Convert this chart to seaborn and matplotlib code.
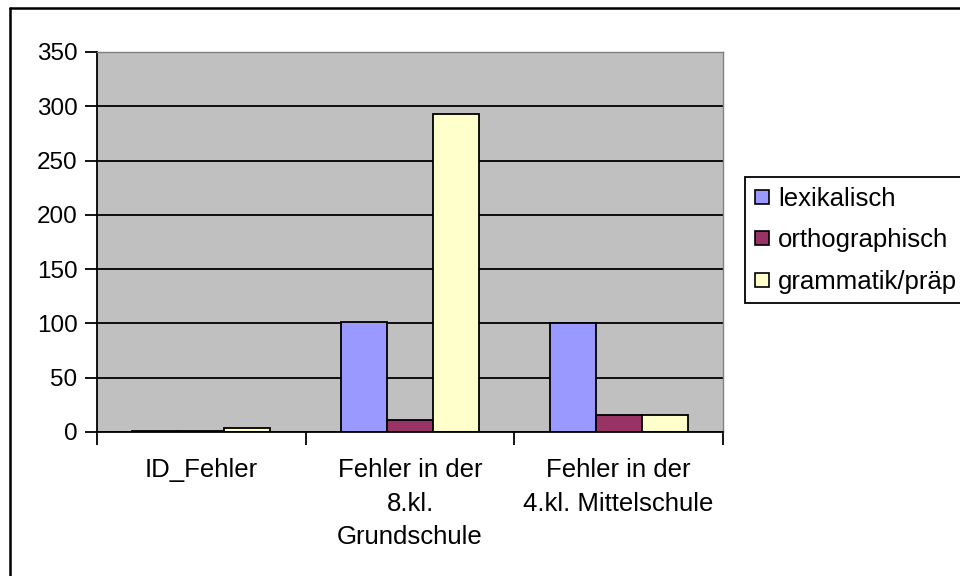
import matplotlib
matplotlib.use("Agg")
import matplotlib.pyplot as plt
import numpy as np
import pandas as pd
import seaborn as sns
from matplotlib.lines import Line2D

categories = ["ID_Fehler", "Fehler in der\n8.kl.\nGrundschule", "Fehler in der\n4.kl. Mittelschule"]
series = ["lexikalisch", "orthographisch", "grammatik/präp"]
lexikalisch = [1, 101, 100]
orthographisch = [1, 11, 16]
grammatik = [4, 293, 16]
colors = ["#9999FF", "#993366", "#FFFFCC"]
y_ticks = [0, 50, 100, 150, 200, 250, 300, 350]

df = pd.DataFrame({
    "Kategorie": categories * 3,
    "Serie": np.repeat(series, len(categories)),
    "Wert": lexikalisch + orthographisch + grammatik,
})

sns.set_style("white")
plt.rcParams["font.family"] = ["Liberation Sans", "DejaVu Sans"]
plt.rcParams["text.color"] = "black"
plt.rcParams["xtick.color"] = "black"
plt.rcParams["ytick.color"] = "black"

fig = plt.figure(figsize=(9.6, 5.76), dpi=100)
ax = fig.add_axes([97 / 960, 1 - 432 / 576, (723 - 97) / 960, (432 - 52) / 576])
ax.set_facecolor("#C0C0C0")

sns.barplot(
    data=df, x="Kategorie", y="Wert", hue="Serie",
    order=categories, hue_order=series, palette=colors, saturation=1,
    width=0.66, edgecolor="black", linewidth=1.3, ax=ax, legend=False,
)

ax.set_ylim(0, 350)
ax.set_xlim(-0.5, 2.5)
ax.set_yticks(y_ticks)
ax.set_yticklabels([str(t) for t in y_ticks], fontsize=17.5)
ax.yaxis.grid(True, color="black", linewidth=1.3)
ax.set_axisbelow(True)
ax.tick_params(axis="y", direction="out", length=9, width=1.3, pad=5, left=True)

# tick marks on the category boundaries, labels centred between them
ax.set_xticks([-0.5, 0.5, 1.5, 2.5])
ax.set_xticklabels([])
ax.set_xticks(range(len(categories)), minor=True)
ax.set_xticklabels(categories, minor=True, fontsize=18.5, linespacing=1.5, va="top")
ax.tick_params(axis="x", which="major", direction="out", length=9, width=1.3, bottom=True)
ax.tick_params(axis="x", which="minor", length=0, pad=19)
ax.set_xlabel("")
ax.set_ylabel("")

for side in ["left", "bottom"]:
    ax.spines[side].set_color("black")
    ax.spines[side].set_linewidth(1.3)
for side in ["top", "right"]:
    ax.spines[side].set_color("#808080")
    ax.spines[side].set_linewidth(1)

handles = [
    Line2D([], [], marker="s", linestyle="none", markersize=9.5,
           markerfacecolor=c, markeredgecolor="black", markeredgewidth=1.2)
    for c in colors
]
leg = fig.legend(
    handles, series, loc="upper left", bbox_to_anchor=(745 / 960, 1 - 177 / 576),
    frameon=True, fancybox=False, fontsize=18.5, handlelength=0.6,
    handletextpad=0.3, labelspacing=0.68, borderpad=0.38, borderaxespad=0,
)
leg.get_frame().set_edgecolor("black")
leg.get_frame().set_linewidth(1.3)
leg.get_frame().set_alpha(1)

# outer chart border (its right and bottom edges lie outside the picture)
fig.add_artist(Line2D([10 / 960, 10 / 960], [0, 1 - 8 / 576], color="black", linewidth=1.8,
                      transform=fig.transFigure))
fig.add_artist(Line2D([10 / 960, 1], [1 - 8 / 576, 1 - 8 / 576], color="black", linewidth=1.8,
                      transform=fig.transFigure))

fig.savefig("out.png", dpi=100, facecolor="white")
